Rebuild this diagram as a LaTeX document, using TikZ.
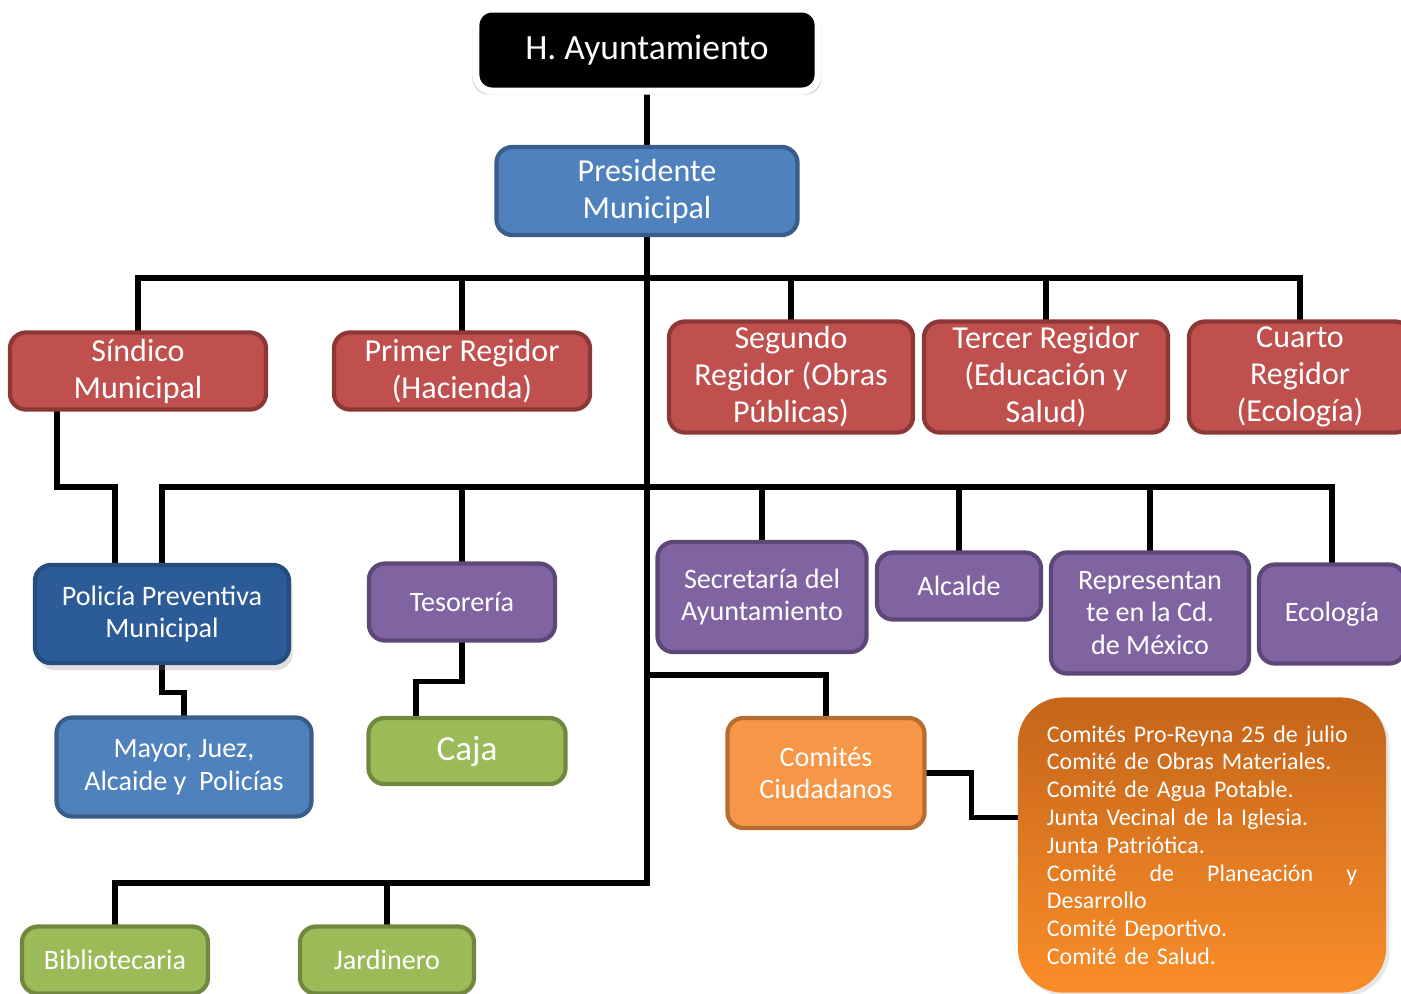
\documentclass[tikz,border=0pt]{standalone}
\usepackage{fontspec}
\setmainfont{Carlito}
\usetikzlibrary{shadows,backgrounds}

\definecolor{rojo}{HTML}{C0504D}
\definecolor{rojoborde}{HTML}{8C3836}
\definecolor{azul}{HTML}{4F81BD}
\definecolor{azulborde}{HTML}{385D8A}
\definecolor{azulosc}{HTML}{2C5C97}
\definecolor{azuloscborde}{HTML}{244C7C}
\definecolor{morado}{HTML}{8064A2}
\definecolor{moradoborde}{HTML}{5C4776}
\definecolor{verde}{HTML}{9BBB59}
\definecolor{verdeborde}{HTML}{71893F}
\definecolor{naranja}{HTML}{F79646}
\definecolor{naranjaborde}{HTML}{B66D31}
\definecolor{naranjaosc}{HTML}{C4651A}
\definecolor{naranjaclaro}{HTML}{FA8D29}

\begin{document}
\begin{tikzpicture}[x=0.01cm,y=-0.01cm,
    caja/.style={rectangle,rounded corners=0.16cm,line width=1.2pt,text=white,align=center,inner sep=0pt},
    grande/.style={font=\fontsize{9.1}{10.5}\selectfont},
    mediana/.style={font=\fontsize{8}{9.3}\selectfont},
    roja/.style={caja,grande,fill=rojo,draw=rojoborde},
    azul/.style={caja,fill=azul,draw=azulborde},
    morada/.style={caja,mediana,fill=morado,draw=moradoborde},
    verde/.style={caja,mediana,fill=verde,draw=verdeborde},
    conector/.style={line width=1.5pt,line cap=round}
]
    \useasboundingbox (0,0) rectangle (1401,993);
    \clip (0,0) rectangle (1401,993);

    % cabeza
    \node[caja,fill=black,draw=white,line width=2pt,font=\fontsize{10.1}{12}\selectfont,
          minimum width=3.42cm,minimum height=0.82cm,
          drop shadow={shadow xshift=0pt,shadow yshift=-0.8pt,shadow scale=1.02,opacity=0.35}] (ayto) at (647,50) {\raisebox{-1pt}{H. Ayuntamiento}};
    \node[azul,grande,minimum width=3.01cm,minimum height=0.88cm] (pres) at (647,191) {Presidente\\Municipal};

    % regidores
    \begin{scope}[every node/.append style={roja}]
        \node[minimum width=2.56cm,minimum height=0.77cm] (sindico) at (138,371) {Síndico\\Municipal};
        \node[minimum width=2.56cm,minimum height=0.77cm] (primer) at (462,371) {Primer Regidor\\(Hacienda)};
        \node[minimum width=2.44cm,minimum height=1.11cm] (segundo) at (791,377) {Segundo\\Regidor (Obras\\Públicas)};
        \node[minimum width=2.44cm,minimum height=1.11cm] (tercer) at (1046,377) {Tercer Regidor\\(Educación y\\Salud)};
        \node[minimum width=2.22cm,minimum height=1.11cm] (cuarto) at (1300,377) {Cuarto\\Regidor\\(Ecología)};
    \end{scope}

    % dependencias
    \node[azul,mediana,fill=azulosc,draw=azuloscborde,minimum width=2.54cm,minimum height=0.98cm,
          drop shadow={shadow xshift=1pt,shadow yshift=-2pt,opacity=0.25}] (policia) at (162,614) {Policía Preventiva\\Municipal};
    \begin{scope}[every node/.append style={morada}]
        \node[minimum width=1.86cm,minimum height=0.77cm] (tesoreria) at (462,602) {Tesorería};
        \node[minimum width=2.09cm,minimum height=1.10cm] (secretaria) at (762,597) {Secretaría del\\Ayuntamiento};
        \node[minimum width=1.64cm,minimum height=0.67cm] (alcalde) at (959,586) {Alcalde};
        \node[minimum width=1.98cm,minimum height=1.21cm] (repre) at (1150,613) {Representan\\te en la Cd.\\de México};
        \node[minimum width=1.46cm,minimum height=0.99cm] (ecologia) at (1332,614) {Ecología};
    \end{scope}

    \node[azul,mediana,minimum width=2.55cm,minimum height=0.99cm] (mayor) at (184,767) {Mayor, Juez,\\Alcaide y~ Policías};
    \node[verde,font=\fontsize{10}{12}\selectfont,minimum width=1.97cm,minimum height=0.66cm] (caja) at (467,751) {Caja};
    \node[caja,mediana,fill=naranja,draw=naranjaborde,minimum width=1.97cm,minimum height=1.10cm] (comites) at (826,773) {Comités\\Ciudadanos};
    \node[rectangle,rounded corners=0.45cm,top color=naranjaosc,bottom color=naranjaclaro,text=white,
          text width=3.1cm,align=left,inner xsep=0.29cm,inner ysep=0pt,minimum height=2.95cm,
          font=\fontsize{6.8}{7.9}\selectfont,
          drop shadow={shadow xshift=1pt,shadow yshift=-1pt,opacity=0.2}] (lista) at (1202,845)
        {Comités Pro-Reyna 25 de julio\\
         Comité de Obras Materiales.\\
         Comité de Agua Potable.\\
         Junta Vecinal de la Iglesia.\\
         Junta Patriótica.\\
         \makebox[3.1cm][l]{Comité\hfill de\hfill Planeación\hfill y}\\
         Desarrollo\\
         Comité Deportivo.\\
         Comité de Salud.};

    \begin{scope}[every node/.append style={verde,minimum height=0.67cm}]
        \node[minimum width=1.86cm] (biblio) at (115,960) {Bibliotecaria};
        \node[minimum width=1.74cm] (jardin) at (387,960) {Jardinero};
    \end{scope}

    % lineas
    \coordinate (busA) at (647,278);
    \coordinate (busB) at (647,487);
    \coordinate (busD) at (647,675);
    \coordinate (busC) at (647,883);
    \coordinate (sindicoBaja) at ([xshift=-0.81cm]sindico.south);
    \coordinate (policiaSube) at ([xshift=-0.47cm]policia.north);

    \begin{scope}[on background layer,every path/.style={conector}]
        \draw (ayto) -- (pres);
        \draw (pres.south) -- (busC) -| (biblio.north);
        \draw (jardin.north) -- (jardin.north |- busC);

        \draw (sindico.north) |- (busA) -| (cuarto.north);
        \foreach \n in {primer,segundo,tercer}
            \draw (\n.north) -- (\n.north |- busA);

        \draw (policia.north) |- (busB) -| (ecologia.north);
        \foreach \n in {tesoreria,secretaria,alcalde,repre}
            \draw (\n.north) -- (\n.north |- busB);

        \draw (sindicoBaja) -- (sindicoBaja |- busB) -| (policiaSube);
        \draw (policia.south) -- ++(0,27) -| (mayor.north);
        \draw (tesoreria.south) -- ++(0,39) -| ([xshift=-0.51cm]caja.north);
        \draw (busD) -| (comites.north);
        \draw (comites.east) -- ++(45,0) |- ([yshift=0.275cm]lista.west);
    \end{scope}

\end{tikzpicture}
\end{document}
